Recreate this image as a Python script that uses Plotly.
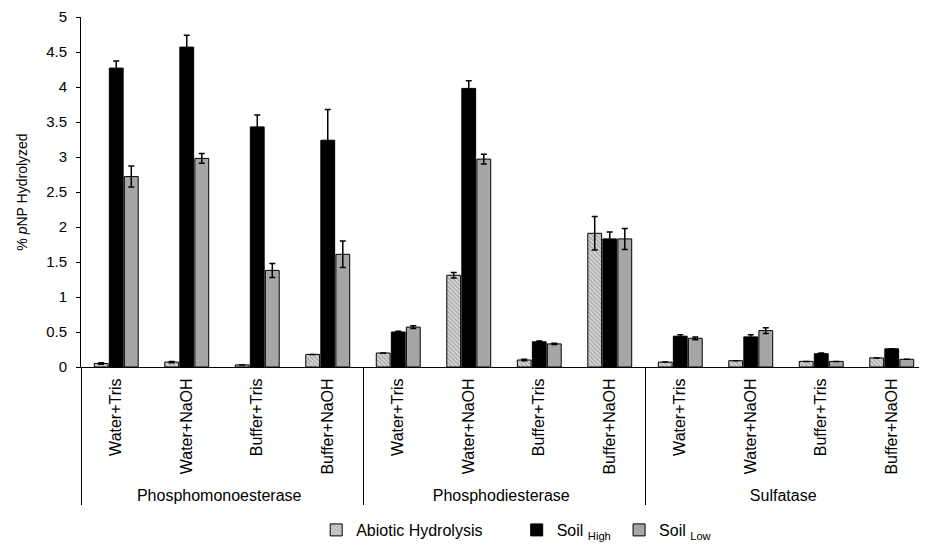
import plotly.graph_objects as go

groups = ["Phosphomonoesterase"] * 4 + ["Phosphodiesterase"] * 4 + ["Sulfatase"] * 4
treatments = ["Water+Tris", "Water+NaOH", "Buffer+Tris", "Buffer+NaOH"] * 3

abiotic = [0.05, 0.07, 0.03, 0.18, 0.20, 1.31, 0.10, 1.91, 0.07, 0.09, 0.08, 0.13]
abiotic_err = [0.01, 0.01, 0.0, 0.0, 0.0, 0.04, 0.01, 0.24, 0.0, 0.0, 0.0, 0.0]
soil_high = [4.27, 4.57, 3.43, 3.24, 0.50, 3.98, 0.36, 1.83, 0.44, 0.43, 0.19, 0.26]
soil_high_err = [0.10, 0.17, 0.17, 0.44, 0.01, 0.11, 0.01, 0.10, 0.02, 0.03, 0.01, 0.0]
soil_low = [2.72, 2.98, 1.38, 1.61, 0.57, 2.97, 0.33, 1.83, 0.41, 0.52, 0.08, 0.11]
soil_low_err = [0.15, 0.07, 0.10, 0.19, 0.02, 0.07, 0.01, 0.15, 0.02, 0.04, 0.0, 0.0]

names = ["Abiotic Hydrolysis", "Soil <sub>High</sub>", "Soil <sub>Low</sub>"]
y_ticks = [0, 0.5, 1, 1.5, 2, 2.5, 3, 3.5, 4, 4.5, 5]

FONT = "Liberation Sans, Arial, sans-serif"
x = [groups, treatments]

fig = go.Figure()
err_style = dict(type="data", thickness=1.5, width=3, color="black")
fig.add_trace(go.Bar(
    x=x, y=abiotic, name=names[0], legend="legend",
    error_y=dict(array=abiotic_err, **err_style),
    marker=dict(color="#d8d8d8", line=dict(color="black", width=1),
                pattern=dict(shape="\\", fgcolor="#6a6a6a", bgcolor="#d8d8d8", size=3, solidity=0.4)),
))
fig.add_trace(go.Bar(
    x=x, y=soil_high, name=names[1], legend="legend2",
    error_y=dict(array=soil_high_err, **err_style),
    marker=dict(color="black", line=dict(color="black", width=1)),
))
fig.add_trace(go.Bar(
    x=x, y=soil_low, name=names[2], legend="legend3",
    error_y=dict(array=soil_low_err, **err_style),
    marker=dict(color="#a6a6a6", line=dict(color="black", width=1)),
))

leg_common = dict(orientation="h", yanchor="middle", y=-0.467, xanchor="left",
                  font=dict(size=16), itemwidth=30, bgcolor="rgba(0,0,0,0)")
fig.update_layout(
    width=919, height=539,
    margin=dict(l=73, r=0, t=9, b=180),
    paper_bgcolor="white", plot_bgcolor="white",
    font=dict(family=FONT, size=14, color="black"),
    barmode="group", bargap=0.36, bargroupgap=0.08,
    showlegend=True,
    legend=dict(x=0.278, **leg_common),
    legend2=dict(x=0.515, **leg_common),
    legend3=dict(x=0.636, **leg_common),
)
fig.update_yaxes(
    range=[0, 5], tickvals=y_ticks, ticktext=[f"{v:g}" for v in y_ticks],
    showline=True, linecolor="black", linewidth=1, ticks="outside", ticklen=4,
    tickcolor="black", showgrid=False, zeroline=False, automargin=False,
    ticklabelstandoff=6, ticklabeloverflow="allow",
    title=dict(text="% <i>p</i>NP Hydrolyzed", font=dict(size=14), standoff=15),
    tickfont=dict(size=15),
)
fig.update_xaxes(
    type="multicategory", showline=True, linecolor="black", linewidth=1,
    ticks="", tickangle=-90, showgrid=False, showdividers=True, automargin=False,
    dividercolor="black", dividerwidth=1, tickfont=dict(size=16),
    ticklabelstandoff=4,
)

fig.write_html("out.html")
